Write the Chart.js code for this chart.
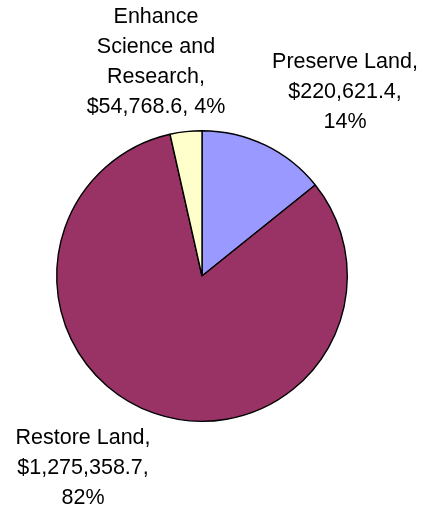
<!DOCTYPE html>
<html>
<head>
<meta charset="utf-8">
<script src="https://cdn.jsdelivr.net/npm/chart.js@4/dist/chart.umd.min.js"></script>
<style>
  body { margin: 0; background: #fff; }
  #wrap { width: 428px; height: 510px; }
</style>
</head>
<body>
<div id="wrap"><canvas id="pie" width="428" height="510"></canvas></div>
<script>
// chart data
const categories = ['Preserve Land', 'Restore Land', 'Enhance Science and Research'];
const amounts = [220621.4, 1275358.7, 54768.6];
const sliceColors = ['#9999FF', '#993366', '#FFFFCC'];

// where each label block sits, relative to the pie centre (px)
const labelOffsets = [[143, -184], [-119, 192], [-46, -214]];

function fmtMoney(v) {
    return '$' + v.toLocaleString('en-US', { minimumFractionDigits: 1, maximumFractionDigits: 1 });
}

function wrapWords(ctx, text, maxW) {
    const words = text.split(' ');
    const lines = [];
    let cur = '';
    words.forEach(w => {
        const test = cur ? cur + ' ' + w : w;
        if (cur && ctx.measureText(test).width > maxW) {
            lines.push(cur);
            cur = w;
        } else {
            cur = test;
        }
    });
    if (cur) lines.push(cur);
    return lines;
}

const outsideLabels = {
    id: 'outsideLabels',
    afterDatasetsDraw(chart, args, opts) {
        const ctx = chart.ctx;
        const meta = chart.getDatasetMeta(0);
        const data = chart.data.datasets[0].data;
        const total = data.reduce((a, b) => a + b, 0);
        ctx.save();
        ctx.font = opts.font;
        ctx.fillStyle = '#000';
        ctx.textAlign = 'center';
        ctx.textBaseline = 'middle';
        meta.data.forEach((arc, i) => {
            const pct = Math.round(data[i] / total * 100) + '%';
            const text = chart.data.labels[i] + ', ' + fmtMoney(data[i]) + ', ' + pct;
            const lines = wrapWords(ctx, text, opts.maxWidth);
            const cx = arc.x + opts.offsets[i][0];
            const cy = arc.y + opts.offsets[i][1];
            const top = cy - (lines.length - 1) * opts.lineHeight / 2;
            lines.forEach((ln, k) => ctx.fillText(ln, cx, top + k * opts.lineHeight));
        });
        ctx.restore();
    }
};

new Chart(document.getElementById('pie'), {
    type: 'pie',
    data: {
        labels: categories,
        datasets: [{
            data: amounts,
            backgroundColor: sliceColors,
            borderColor: '#000',
            borderWidth: 1.4
        }]
    },
    options: {
        responsive: false,
        animation: false,
        layout: { padding: { left: 56, right: 80, top: 130, bottom: 88 } },
        plugins: {
            legend: { display: false },
            tooltip: { enabled: false },
            outsideLabels: {
                font: '21.5px "Liberation Sans", Arial, sans-serif',
                lineHeight: 29.8,
                maxWidth: 152,
                offsets: labelOffsets
            }
        }
    },
    plugins: [outsideLabels, {
        id: 'whiteBg',
        beforeDraw(chart) {
            const c = chart.ctx;
            c.save();
            c.fillStyle = '#fff';
            c.fillRect(0, 0, chart.width, chart.height);
            c.restore();
        }
    }]
});
</script>
</body>
</html>
